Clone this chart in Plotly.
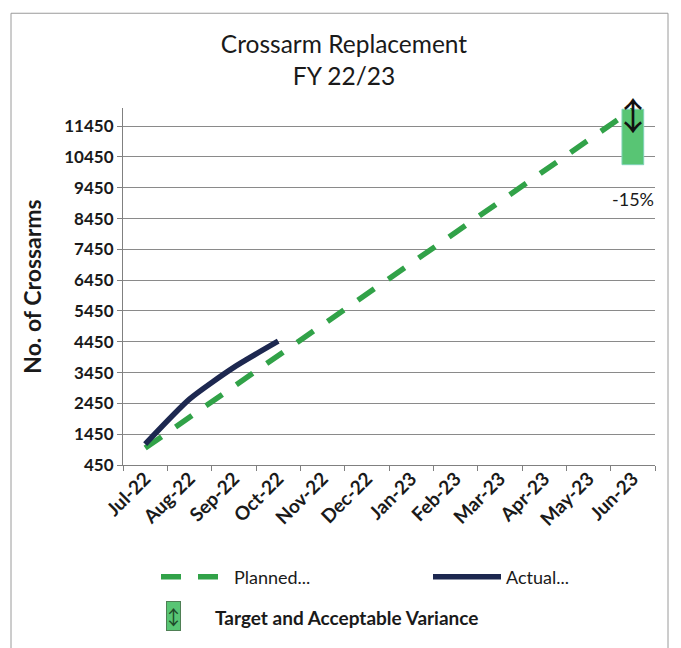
import plotly.graph_objects as go

months = ["Jul-22", "Aug-22", "Sep-22", "Oct-22", "Nov-22", "Dec-22",
          "Jan-23", "Feb-23", "Mar-23", "Apr-23", "May-23", "Jun-23"]
planned = [1000, 2000, 3000, 4000, 5000, 6000, 7000, 8000, 9000, 10000, 11000, 12000]
actual_months = ["Jul-22", "Aug-22", "Sep-22", "Oct-22"]
actual = [1130, 2590, 3620, 4470]
target_month = ["Jun-23"]
target_top = [12000]
variance_pct = -15
target_low = [t * (100 + variance_pct) / 100 for t in target_top]
ytick_vals = [450, 1450, 2450, 3450, 4450, 5450, 6450, 7450, 8450, 9450, 10450, 11450]

FONT = "Lato"
TXT = "#1a1a1a"
GREEN = "#31a248"
NAVY = "#1d2850"
BOX = "#58c574"

fig = go.Figure()

fig.add_trace(go.Bar(
    x=target_month, y=[t - l for t, l in zip(target_top, target_low)], base=target_low,
    width=0.49, marker=dict(color=BOX, line=dict(color="#7fd3b8", width=1)),
    name="Target and Acceptable Variance", legend="legend3", showlegend=True,
))
fig.add_trace(go.Scatter(
    x=months, y=planned, mode="lines", name="Planned...",
    line=dict(color=GREEN, width=5.5, dash="20px,17px"), legend="legend",
))
fig.add_trace(go.Scatter(
    x=actual_months, y=actual, mode="lines", name="Actual...",
    line=dict(color=NAVY, width=5.5, shape="spline", smoothing=0.6), legend="legend2",
))

# the page body adds an 8px offset; work in figure pixels
W, H = 673, 640
L, R, T, B = 115, 647, 100, 458

def px(x):
    return (x - L) / (R - L)

def py(y):
    return (B - y) / (B - T)

fig.update_layout(
    width=W, height=H,
    margin=dict(l=L, r=W - R, t=T, b=H - B),
    paper_bgcolor="white", plot_bgcolor="white",
    font=dict(family=FONT, color=TXT),
    title=dict(text="Crossarm Replacement<br>FY 22/23", x=px(336), xref="paper",
               xanchor="center", y=1 - 45 / H, yanchor="top",
               font=dict(size=24.5, family=FONT, color=TXT)),
    xaxis=dict(type="category", categoryorder="array", categoryarray=months,
               tickson="boundaries", ticks="outside", ticklen=5, tickcolor="#808080",
               showline=True, linecolor="#808080", linewidth=1.2, showgrid=False,
               tickangle=-45, ticklabelstandoff=-6,
               tickfont=dict(size=19, family=FONT, color=TXT, weight="bold"),
               range=[-0.5, 11.5]),
    yaxis=dict(range=[450, 12040], tickvals=ytick_vals, tickformat="d", ticks="outside", ticklen=5,
               tickcolor="#808080", showline=True, linecolor="#808080", linewidth=1.2,
               showgrid=True, gridcolor="#8a8a8a", gridwidth=1.1, zeroline=False,
               tickfont=dict(size=17, family=FONT, color=TXT, weight="bold"),
               title=dict(text="No. of Crossarms", standoff=16,
                          font=dict(size=23, family=FONT, color=TXT, weight="bold"))),
    legend=dict(x=px(148), y=py(569), xanchor="left", yanchor="middle", itemwidth=68,
                bgcolor="rgba(0,0,0,0)", font=dict(size=18, family=FONT, color=TXT)),
    legend2=dict(x=px(420), y=py(569), xanchor="left", yanchor="middle", itemwidth=68,
                 bgcolor="rgba(0,0,0,0)", font=dict(size=18, family=FONT, color=TXT)),
    legend3=dict(x=px(124), y=py(610), xanchor="left", yanchor="middle", itemwidth=73,
                 bgcolor="rgba(0,0,0,0)",
                 font=dict(size=19, family=FONT, color=TXT, weight="bold")),
    showlegend=True,
    bargap=0.5,
)

fig.add_annotation(x=target_month[0], y=11870, text="↕", showarrow=False,
                   font=dict(size=38, family="Noto Sans CJK JP", color="#111"))
fig.add_annotation(x=target_month[0], y=9090, text=f"{variance_pct}%", showarrow=False,
                   font=dict(size=18, family=FONT, color=TXT))
# legend key decoration for the target box
fig.add_annotation(xref="paper", yref="paper", x=px(165.5), y=py(609.5), text="↕",
                   xanchor="center", yanchor="middle",
                   showarrow=False, width=13, height=28, bgcolor=BOX,
                   bordercolor="#4f7f55", borderwidth=1, borderpad=0,
                   font=dict(size=20, family="Noto Sans CJK JP", color="#1f4a2a"))

fig.add_shape(type="rect", xref="paper", yref="paper", x0=px(3), x1=px(660), y0=py(645), y1=py(5),
              line=dict(color="#9a9a9a", width=1), layer="below")

fig.write_html("out.html")
